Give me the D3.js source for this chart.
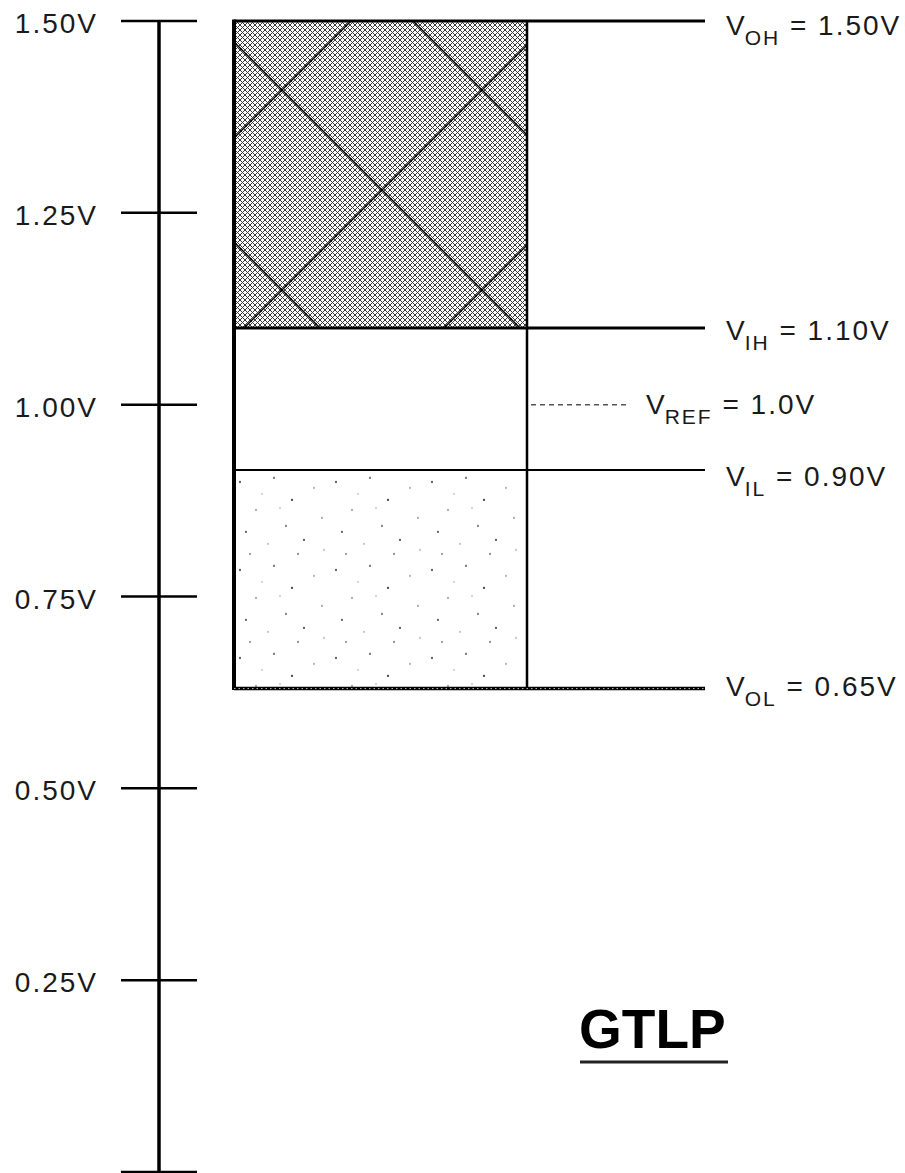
<!DOCTYPE html>
<html>
<head>
<meta charset="utf-8">
<script src="https://cdn.jsdelivr.net/npm/d3@7"></script>
<style>
  html, body { margin: 0; padding: 0; background: #fff; }
  svg { display: block; }
  text { font-family: "Liberation Sans", Arial, sans-serif; fill: #1a1a1a; }
</style>
</head>
<body>
<svg id="chart" width="905" height="1173"></svg>
<script>
// ---- data ----
const tickValues = [0, 0.25, 0.5, 0.75, 1.0, 1.25, 1.5];
const tickLabels = ["", "0.25V", "0.50V", "0.75V", "1.00V", "1.25V", "1.50V"];
// drawn level positions (volts)
const levelNames  = ["OH", "IH", "REF", "IL", "OL"];
const levelValues = [1.50, 1.10, 1.00, 0.915, 0.63];
const levelTexts  = [" = 1.50V", " = 1.10V", " = 1.0V", " = 0.90V", " = 0.65V"];
const title = "GTLP";

// ---- layout ----
const W = 905, H = 1173;
const y = d3.scaleLinear().domain([0, 1.5]).range([1172, 21]);
const axisX = 159, boxL = 234, boxR = 527, lineEnd = 705;
const labelX = 726, refLabelX = 646;
const labelDy = [14, 12, 9, 16, 7];

const svg = d3.select("#chart");
const defs = svg.append("defs");

// dense crosshatch pattern
const ch = defs.append("pattern").attr("id", "cross").attr("patternUnits", "userSpaceOnUse")
  .attr("width", 5).attr("height", 5);
ch.append("rect").attr("width", 5).attr("height", 5).attr("fill", "#fff");
ch.append("path").attr("d", "M0,0L5,5M0,5L5,0").attr("stroke", "#3a3a3a").attr("stroke-width", 1);
// sparse big diagonals
const big = defs.append("pattern").attr("id", "bigdiag").attr("patternUnits", "userSpaceOnUse")
  .attr("width", 200).attr("height", 200).attr("x", 182).attr("y", -10);
big.append("path").attr("d", "M0,0L200,200M0,200L200,0M-10,190L10,210M190,-10L210,10M-10,-10L10,10M190,210L210,190")
  .attr("stroke", "#000").attr("stroke-width", 1.5).attr("fill", "none");

// stipple pattern (decorative dots)
const st = defs.append("pattern").attr("id", "stip").attr("patternUnits", "userSpaceOnUse")
  .attr("width", 96).attr("height", 88).attr("x", boxL).attr("y", y(levelValues[3]));
const dots = [[6,12,"#333"],[22,40,"#999"],[40,8,"#555"],[58,30,"#222"],[80,18,"#aaa"],[12,62,"#444"],
              [34,74,"#bbb"],[52,56,"#666"],[70,70,"#333"],[88,48,"#999"],[28,24,"#ccc"],[64,84,"#777"],
              [90,80,"#bbb"],[16,84,"#888"],[46,38,"#ccc"]];
st.selectAll("circle").data(dots).join("circle")
  .attr("cx", d => d[0]).attr("cy", d => d[1]).attr("r", 1.1).attr("fill", d => d[2]);

// filled regions
const topY = y(levelValues[0]), ihY = y(levelValues[1]), ilY = y(levelValues[3]), olY = y(levelValues[4]);
svg.append("rect").attr("x", boxL).attr("y", topY).attr("width", boxR - boxL).attr("height", ihY - topY)
  .attr("fill", "url(#cross)");
svg.append("rect").attr("x", boxL).attr("y", topY).attr("width", boxR - boxL).attr("height", ihY - topY)
  .attr("fill", "url(#bigdiag)");
svg.append("rect").attr("x", boxL).attr("y", ilY).attr("width", boxR - boxL).attr("height", olY - ilY)
  .attr("fill", "url(#stip)");

// axis
svg.append("line").attr("x1", axisX).attr("x2", axisX).attr("y1", y(1.5)).attr("y2", y(0))
  .attr("stroke", "#000").attr("stroke-width", 3.5);
const ticks = svg.append("g");
ticks.selectAll("line").data(tickValues).join("line")
  .attr("x1", 121).attr("x2", 197).attr("y1", d => y(d)).attr("y2", d => y(d))
  .attr("stroke", "#000").attr("stroke-width", 2.5);
ticks.selectAll("text").data(tickValues).join("text")
  .attr("x", 98).attr("y", d => y(d) + 12).attr("text-anchor", "end")
  .attr("font-size", 28).attr("letter-spacing", 2)
  .text((d, i) => tickLabels[i]);

// box sides
svg.append("line").attr("x1", boxL).attr("x2", boxL).attr("y1", topY - 1.5).attr("y2", olY + 1.5)
  .attr("stroke", "#000").attr("stroke-width", 4);
svg.append("line").attr("x1", boxR).attr("x2", boxR).attr("y1", topY).attr("y2", olY)
  .attr("stroke", "#000").attr("stroke-width", 2.5);

// level lines
const lw = [3, 3, 0, 2, 3.5];
levelValues.forEach((v, i) => {
  if (levelNames[i] === "REF") {
    svg.append("line").attr("x1", boxR + 4).attr("x2", 630).attr("y1", y(v)).attr("y2", y(v))
      .attr("stroke", "#555").attr("stroke-width", 1.5).attr("stroke-dasharray", "5,4");
  } else {
    svg.append("line").attr("x1", boxL).attr("x2", lineEnd).attr("y1", y(v)).attr("y2", y(v))
      .attr("stroke", "#000").attr("stroke-width", lw[i]);
    if (levelNames[i] === "OL") {
      svg.append("line").attr("x1", boxL).attr("x2", lineEnd).attr("y1", y(v)).attr("y2", y(v))
        .attr("stroke", "#bbb").attr("stroke-width", 1).attr("stroke-dasharray", "1.5,3");
    }
  }
});

// level labels
levelValues.forEach((v, i) => {
  const t = svg.append("text")
    .attr("x", levelNames[i] === "REF" ? refLabelX : labelX)
    .attr("y", y(v) + labelDy[i])
    .attr("font-size", 28).attr("letter-spacing", 2);
  t.append("tspan").text("V");
  t.append("tspan").attr("font-size", 21).attr("dy", 10).attr("dx", -2).text(levelNames[i]);
  t.append("tspan").attr("dy", -10).text(levelTexts[i]);
});

// title
svg.append("text").attr("x", 579).attr("y", 1048)
  .attr("font-size", 55).attr("font-weight", "bold")
  .style("fill", "#000").text(title);
svg.append("line").attr("x1", 580).attr("x2", 728).attr("y1", 1062).attr("y2", 1062)
  .attr("stroke", "#222").attr("stroke-width", 3);
</script>
</body>
</html>
